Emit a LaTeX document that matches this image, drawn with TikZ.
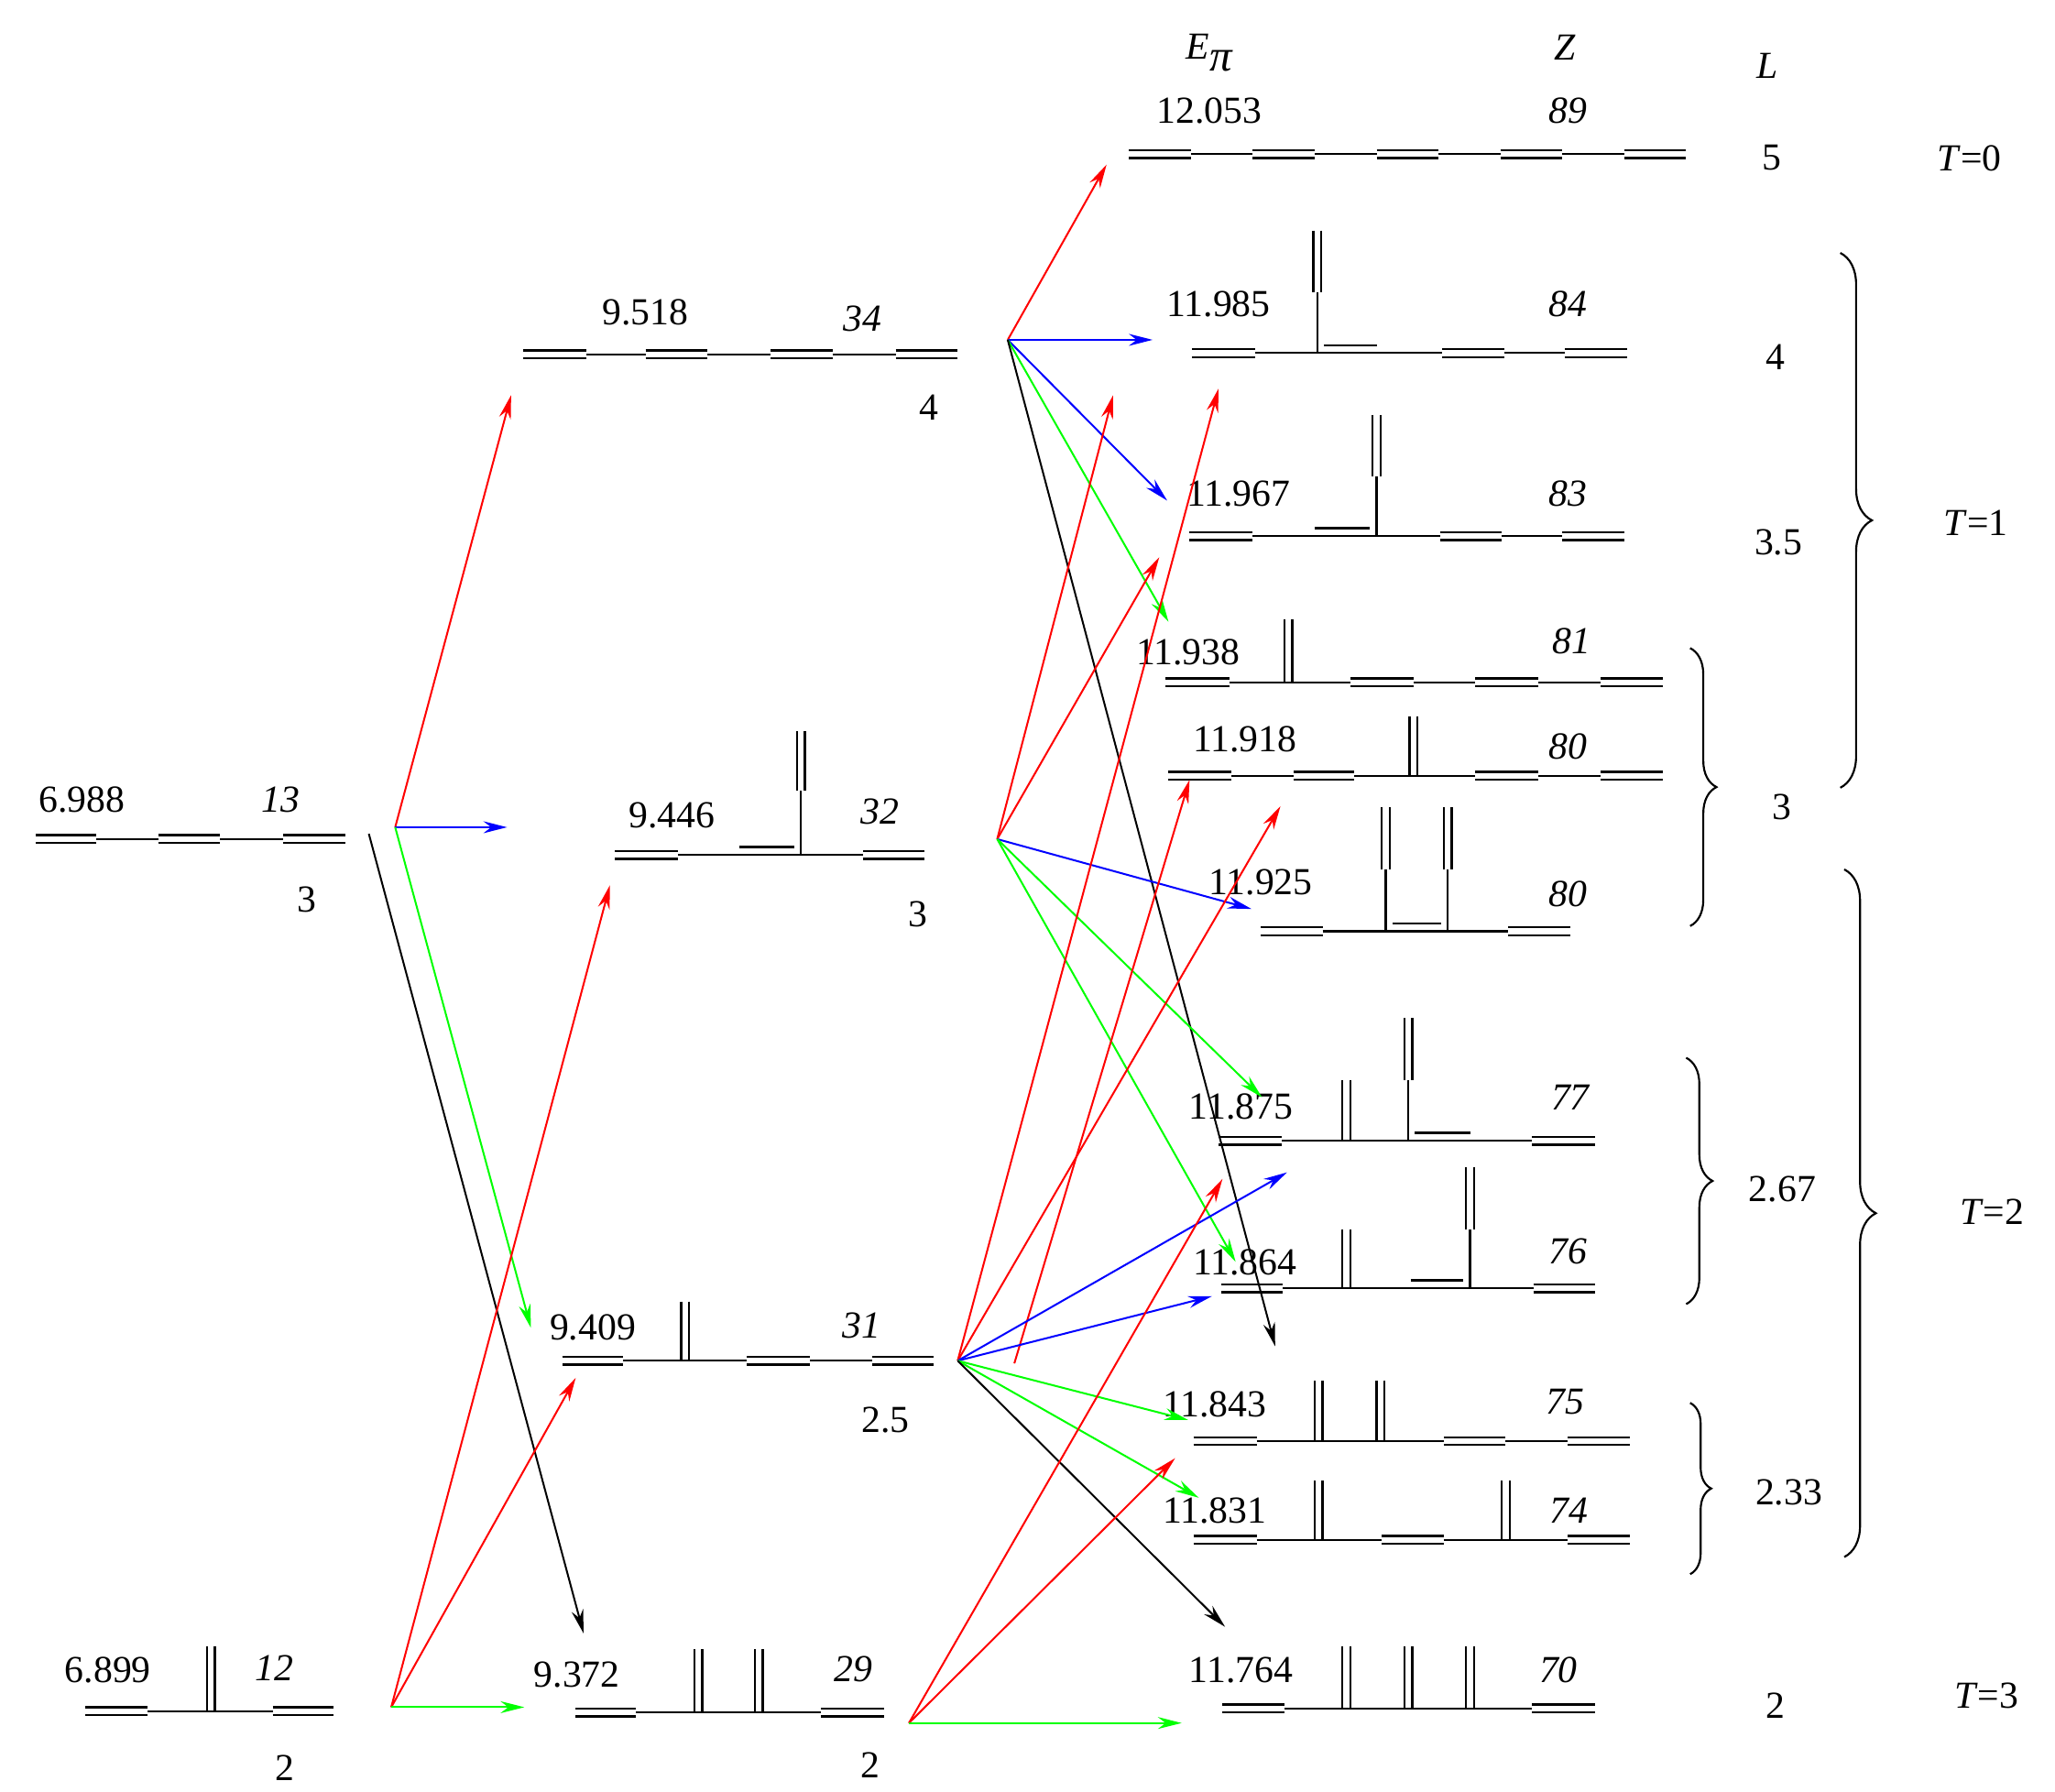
\documentclass[tikz,border=0pt]{standalone}
\usepackage{fontspec}
\setmainfont{Liberation Serif}
\usetikzlibrary{arrows.meta,decorations.pathreplacing}
\newcommand{\dbh}[3]{\draw[bond] (#1,#3-3) -- (#2,#3-3); \draw[bond] (#1,#3+3) -- (#2,#3+3);}
\newcommand{\sbh}[3]{\draw[bond] (#1,#3) -- (#2,#3);}
\newcommand{\dbv}[3]{\draw[bond] (#1-3,#2) -- (#1-3,#3); \draw[bond] (#1+3,#2) -- (#1+3,#3);}
\newcommand{\sbv}[3]{\draw[bond] (#1,#2) -- (#1,#3);}
\begin{document}
\begin{tikzpicture}[x=1pt,y=-1pt,
  bond/.style={line width=1.6pt},
  lab/.style={font=\fontsize{29}{30}\selectfont, inner sep=0pt},
  zl/.style={lab, font=\fontsize{29}{30}\selectfont\itshape},
  arr/.style={line width=1.4pt, -{Stealth[length=18pt,width=9pt]}},
  br/.style={line width=1.5pt, decorate, decoration={brace,amplitude=#1}}]
\useasboundingbox (0,0) rectangle (1560,1360);
% M1
\dbh{27}{73}{637}\sbh{73}{120}{637}\dbh{120}{167}{637}\sbh{167}{215}{637}\dbh{215}{262}{637}
\node[lab] (t1) at (62,607) {6.988}; \node[zl] (z1) at (213,607) {13}; \node[lab] (l1) at (233,683) {3};
% M2
\dbh{65}{112}{1299}\sbh{112}{207}{1299}\dbv{160}{1250}{1299}\dbh{207}{253}{1299}
\node[lab] (t2) at (82,1268) {6.899}; \node[zl] (z2) at (208,1266) {12}; \node[lab] (l2) at (216,1342) {2};
% M3
\dbh{397}{445}{269}\sbh{445}{490}{269}\dbh{490}{537}{269}\sbh{537}{585}{269}\dbh{585}{632}{269}\sbh{632}{680}{269}\dbh{680}{727}{269}
\node[lab] (t3) at (490,237) {9.518}; \node[zl] (z3) at (655,242) {34}; \node[lab] (l3) at (705,309) {4};
% M4
\dbh{467}{515}{649}\sbh{515}{655}{649}\sbh{561}{603}{643}\sbv{608}{649}{600}\dbv{608}{555}{600}\dbh{655}{702}{649}
\node[lab] (t4) at (510,619) {9.446}; \node[zl] (z4) at (668,616) {32}; \node[lab] (l4) at (697,694) {3};
% M5
\dbh{427}{473}{1033}\sbh{473}{567}{1033}\dbv{520}{988}{1033}\dbh{567}{615}{1033}\sbh{615}{662}{1033}\dbh{662}{709}{1033}
\node[lab] (t5) at (450,1008) {9.409}; \node[zl] (z5) at (654,1006) {31}; \node[lab] (l5) at (672,1078) {2.5};
% M6
\dbh{437}{483}{1300}\sbh{483}{623}{1300}\dbv{530}{1252}{1300}\dbv{576}{1252}{1300}\dbh{623}{671}{1300}
\node[lab] (t6) at (438,1271) {9.372}; \node[zl] (z6) at (648,1267) {29}; \node[lab] (l6) at (661,1340) {2};
% R1
\dbh{857}{904}{117}\sbh{904}{951}{117}\dbh{951}{998}{117}\sbh{998}{1045}{117}\dbh{1045}{1092}{117}\sbh{1092}{1139}{117}\dbh{1139}{1186}{117}\sbh{1186}{1233}{117}\dbh{1233}{1280}{117}
\node[lab] (r1) at (918,84) {12.053}; \node[zl] (y1) at (1190,84) {89}; \node[lab] (q1) at (1345,120) {5};
\node[lab] (T0) at (1495,120) {\textit{T}=0};
% R2
\dbh{905}{953}{268}\sbh{953}{1095}{268}\sbv{1000}{268}{222}\dbv{1000}{175}{222}\sbh{1005}{1045}{262}\dbh{1095}{1142}{268}\sbh{1142}{1188}{268}\dbh{1188}{1235}{268}
\node[lab] (r2) at (925,231) {11.985}; \node[zl] (y2) at (1190,231) {84}; \node[lab] (q2) at (1348,271) {4};
% R3
\dbh{903}{951}{407}\sbh{951}{1093}{407}\sbv{1045}{407}{362}\dbv{1045}{315}{362}\sbh{998}{1040}{401}\dbh{1093}{1140}{407}\sbh{1140}{1186}{407}\dbh{1186}{1233}{407}
\node[lab] (r3) at (940,375) {11.967}; \node[zl] (y3) at (1190,375) {83}; \node[lab] (q3) at (1350,412) {3.5};
% R4
\dbh{885}{933}{518}\sbh{933}{1025}{518}\dbv{978}{470}{518}\dbh{1025}{1073}{518}\sbh{1073}{1120}{518}\dbh{1120}{1168}{518}\sbh{1168}{1215}{518}\dbh{1215}{1262}{518}
\node[lab] (r4) at (902,495) {11.938}; \node[zl] (y4) at (1193,487) {81};
% R5
\dbh{887}{935}{589}\sbh{935}{982}{589}\dbh{982}{1028}{589}\sbh{1028}{1120}{589}\dbv{1073}{544}{589}\dbh{1120}{1168}{589}\sbh{1168}{1215}{589}\dbh{1215}{1262}{589}
\node[lab] (r5) at (945,561) {11.918}; \node[zl] (y5) at (1190,567) {80}; \node[lab] (q5) at (1353,613) {3};
% R6
\dbh{957}{1004}{707}\sbh{1004}{1145}{707}\sbv{1052}{707}{660}\dbv{1052}{613}{660}\sbv{1099}{707}{660}\dbv{1099}{613}{660}\sbh{1057}{1094}{701}\dbh{1145}{1192}{707}
\node[lab] (r6) at (957,670) {11.925}; \node[zl] (y6) at (1190,679) {80};
% R7
\dbh{925}{973}{866}\sbh{973}{1163}{866}\dbv{1022}{820}{866}\sbv{1069}{866}{820}\dbv{1069}{773}{820}\sbh{1074}{1116}{860}\dbh{1163}{1211}{866}
\node[lab] (r7) at (942,840) {11.875}; \node[zl] (y7) at (1192,833) {77}; \node[lab] (q7) at (1353,903) {2.67};
% R8
\dbh{927}{974}{978}\sbh{974}{1164}{978}\dbv{1022}{933}{978}\sbv{1116}{978}{933}\dbv{1116}{886}{933}\sbh{1071}{1111}{972}\dbh{1164}{1211}{978}
\node[lab] (r8) at (945,958) {11.864}; \node[zl] (y8) at (1190,950) {76};
% R9
\dbh{906}{954}{1094}\sbh{954}{1096}{1094}\dbv{1001}{1048}{1094}\dbv{1048}{1048}{1094}\dbh{1096}{1143}{1094}\sbh{1143}{1190}{1094}\dbh{1190}{1237}{1094}
\node[lab] (r9) at (922,1066) {11.843}; \node[zl] (y9) at (1188,1064) {75};
% R10
\dbh{906}{954}{1169}\sbh{954}{1049}{1169}\dbv{1001}{1124}{1169}\dbh{1049}{1096}{1169}\sbh{1096}{1190}{1169}\dbv{1143}{1124}{1169}\dbh{1190}{1237}{1169}
\node[lab] (r10) at (922,1147) {11.831}; \node[zl] (y10) at (1191,1147) {74}; \node[lab] (q10) at (1358,1133) {2.33};
% R11
\dbh{928}{975}{1297}\sbh{975}{1163}{1297}\dbv{1022}{1250}{1297}\dbv{1069}{1250}{1297}\dbv{1116}{1250}{1297}\dbh{1163}{1211}{1297}
\node[lab] (r11) at (942,1268) {11.764}; \node[zl] (y11) at (1183,1268) {70}; \node[lab] (q11) at (1348,1295) {2};
\node[lab] (T3) at (1508,1287) {\textit{T}=3};
% headers
\node[zl] (hE) at (918,40) {E\raisebox{-9pt}{\fontsize{34}{36}\selectfont π}};
\node[zl] (hZ) at (1188,36) {Z};
\node[zl] (hL) at (1342,50) {L};
\node[lab] (T1) at (1500,397) {\textit{T}=1};
\node[lab] (T2) at (1512,920) {\textit{T}=2};
% braces
\draw[br=24pt] (1397,192) -- (1397,598);
\draw[br=20pt] (1283,492) -- (1283,703);
\draw[br=24pt] (1400,660) -- (1400,1182);
\draw[br=20pt] (1280,803) -- (1280,990);
\draw[br=16pt] (1283,1065) -- (1283,1195);
% arrow origins
\coordinate (P1) at (300,628); \coordinate (P1b) at (280,633);
\coordinate (P2) at (297,1296); \coordinate (P3) at (765,258);
\coordinate (P4) at (757,637); \coordinate (P5) at (727,1033);
\coordinate (P5b) at (770,1035); \coordinate (P6) at (690,1308);
\draw[arr,red] (P1) -- (388,300);
\draw[arr,blue] (P1) -- (385,628);
\draw[arr,green] (P1) -- (403,1008);
\draw[arr,black] (P1b) -- (443,1240);
\draw[arr,red] (P2) -- (463,672);
\draw[arr,red] (P2) -- (437,1046);
\draw[arr,green] (P2) -- (398,1296);
\draw[arr,red] (P3) -- (840,125);
\draw[arr,blue] (P3) -- (875,258);
\draw[arr,blue] (P3) -- (886,380);
\draw[arr,green] (P3) -- (887,472);
\draw[arr,black] (P3) -- (968,1022);
\draw[arr,red] (P4) -- (845,300);
\draw[arr,red] (P4) -- (880,423);
\draw[arr,blue] (P4) -- (950,690);
\draw[arr,green] (P4) -- (958,833);
\draw[arr,green] (P4) -- (938,958);
\draw[arr,red] (P5) -- (925,295);
\draw[arr,red] (P5) -- (972,612);
\draw[arr,red] (P5b) -- (903,592);
\draw[arr,blue] (P5) -- (977,890);
\draw[arr,blue] (P5) -- (920,984);
\draw[arr,green] (P5) -- (902,1078);
\draw[arr,green] (P5) -- (910,1137);
\draw[arr,black] (P5) -- (930,1235);
\draw[arr,red] (P6) -- (928,895);
\draw[arr,red] (P6) -- (892,1107);
\draw[arr,green] (P6) -- (897,1308);
\end{tikzpicture}
\end{document}
